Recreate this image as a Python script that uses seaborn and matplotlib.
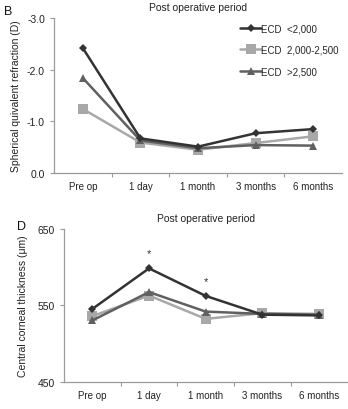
import matplotlib
matplotlib.use("Agg")
import matplotlib.pyplot as plt
import seaborn as sns
import pandas as pd
from matplotlib.ticker import FixedLocator, FormatStrFormatter

sns.set_theme(style="white")
plt.rcParams['font.family'] = ['Liberation Sans', 'DejaVu Sans']
plt.rcParams['axes.unicode_minus'] = False

categories = ["Pre op", "1 day", "1 month", "3 months", "6 months"]
groups = ["ECD  <2,000", "ECD  2,000-2,500", "ECD  >2,500"]

# Panel B: spherical equivalent refraction (D)
ser_lt2000 = [-2.42, -0.67, -0.51, -0.77, -0.85]
ser_2000_2500 = [-1.24, -0.59, -0.45, -0.58, -0.71]
ser_gt2500 = [-1.84, -0.63, -0.48, -0.54, -0.53]

# Panel D: central corneal thickness (um)
cct_lt2000 = [545.5, 598.5, 562.5, 538, 537]
cct_2000_2500 = [536, 563, 532.5, 540, 539]
cct_gt2500 = [530.5, 567.5, 542, 539, 538]

# significance markers (panel D)
star_categories = ["1 day", "1 month"]
star_values = [619, 582]

colors = {groups[0]: "#333333", groups[1]: "#a8a8a8", groups[2]: "#606060"}
markers = {groups[0]: "D", groups[1]: "s", groups[2]: "^"}
msizes = {groups[0]: 4.5, groups[1]: 6.5, groups[2]: 6}

def long_df(a, b, c):
    rows = []
    for g, vals in zip(groups, [a, b, c]):
        for cat, v in zip(categories, vals):
            rows.append({"period": cat, "value": v, "group": g})
    return pd.DataFrame(rows)

df_b = long_df(ser_lt2000, ser_2000_2500, ser_gt2500)
df_d = long_df(cct_lt2000, cct_2000_2500, cct_gt2500)

fig = plt.figure(figsize=(3.48, 4.10), dpi=100)
ax1 = fig.add_axes([0.155, 0.5756, 0.828, 0.3781])
ax2 = fig.add_axes([0.184, 0.0659, 0.814, 0.3732])

draw_order = [groups[1], groups[2], groups[0]]

def draw(ax, df, legend):
    for g in draw_order:
        sub = df[df["group"] == g]
        sns.lineplot(data=sub, x="period", y="value", ax=ax, color=colors[g],
                     marker=markers[g], markersize=msizes[g], markeredgewidth=0,
                     linewidth=1.8, label=g if legend else None, sort=False)
    ax.set_xlim(-0.5, 4.5)
    ax.set_xlabel("")
    for s in ["top", "right"]:
        ax.spines[s].set_visible(False)
    for s in ["left", "bottom"]:
        ax.spines[s].set_color("#9a9a9a")
        ax.spines[s].set_linewidth(0.9)
    ax.tick_params(axis="x", which="major", length=0, labelsize=7, pad=6, colors="#222222")
    ax.xaxis.set_minor_locator(FixedLocator([0.5, 1.5, 2.5, 3.5]))
    ax.tick_params(axis="x", which="minor", length=3, width=0.8, color="#9a9a9a", direction="out", bottom=True)
    ax.tick_params(axis="y", length=3, width=0.8, direction="out", left=True, labelsize=7.5,
                   color="#9a9a9a", labelcolor="#222222")
    ax.set_title("Post operative period", fontsize=7.5, color="#222222", pad=6)

draw(ax1, df_b, True)
ax1.set_ylim(0, -3.0)
ax1.set_yticks([0, -1, -2, -3])
ax1.yaxis.set_major_formatter(FormatStrFormatter("%.1f"))
ax1.set_ylabel("Spherical quivalent refraction (D)", fontsize=7.5, color="#222222", labelpad=4)
handles, labels = ax1.get_legend_handles_labels()
order = [labels.index(g) for g in groups]
leg = ax1.legend([handles[i] for i in order], [labels[i] for i in order],
                 loc="upper left", bbox_to_anchor=(0.625, 1.005), frameon=False,
                 fontsize=7, handlelength=2.2, handletextpad=0.0, labelspacing=1.2,
                 borderaxespad=0.2)

draw(ax2, df_d, False)
ax2.set_ylim(450, 650)
ax2.set_yticks([450, 550, 650])
ax2.set_ylabel("Central corneal thickness (μm)", fontsize=7.5, color="#222222", labelpad=7)
for c, v in zip(star_categories, star_values):
    ax2.text(categories.index(c), v, "*", ha="center", va="center", fontsize=8, color="#333333")

fig.text(0.012, 0.985, "B", fontsize=9, va="top", ha="left", color="#111111")
fig.text(0.05, 0.462, "D", fontsize=9, va="top", ha="left", color="#111111")

fig.savefig("out.png", dpi=100)
